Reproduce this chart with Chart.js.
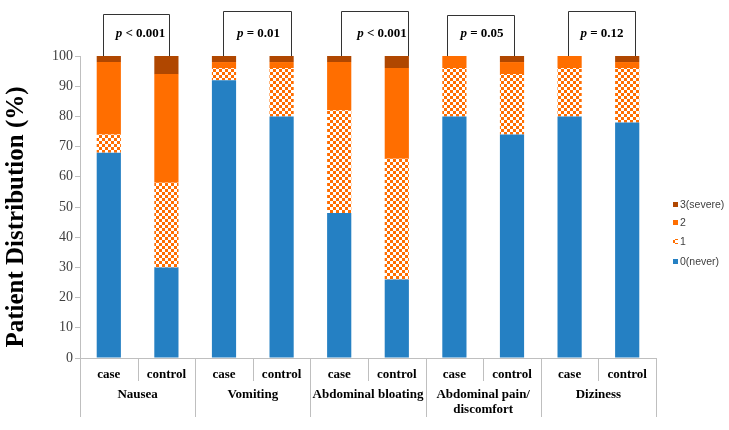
<!DOCTYPE html>
<html>
<head>
<meta charset="utf-8">
<script src="https://cdn.jsdelivr.net/npm/chart.js@4.4.1/dist/chart.umd.min.js"></script>
<style>
  html, body { margin: 0; padding: 0; background: #fff; }
  #wrap { width: 729px; height: 430px; }
</style>
</head>
<body>
<div id="wrap"><canvas id="chart" width="729" height="430"></canvas></div>
<script>
// ── Data ─────────────────────────────────────────────────────────────────────
const GROUPS   = ["Nausea", "Vomiting", "Abdominal bloating", ["Abdominal pain/", "discomfort"], "Diziness"];
const ARMS     = ["case", "control"];
const LABELS   = GROUPS.flatMap(() => ARMS);
const SEVERITY = ["0(never)", "1", "2", "3(severe)"];

// percent of patients, case/control per symptom
const NEVER  = [68, 30, 92, 80, 48, 26, 80, 74, 80, 78];
const ONE    = [ 6, 28,  4, 16, 34, 40, 16, 20, 16, 18];
const TWO    = [24, 36,  2,  2, 16, 30,  4,  4,  4,  2];
const SEVERE = [ 2,  6,  2,  2,  2,  4,  0,  2,  0,  2];

const P_VALUES = ["< 0.001", "= 0.01", "< 0.001", "= 0.05", "= 0.12"];

const Y_MAX  = 100;
const Y_STEP = 10;

// ── Style ────────────────────────────────────────────────────────────────────
const BLUE   = "#2580c3";
const ORANGE = "#ff6e00";
const DARK   = "#b04700";
const GREY   = "#bfbfbf";
const SERIF  = "'Liberation Serif', 'Times New Roman', serif";

// bracket tweaks per symptom: leg offsets from bar centres, top y, label shift
const BRACKET_STYLE = [
  { l: -6, r: 3,  top: 14, dx: 4 },
  { l: -1, r: 9,  top: 11, dx: 1 },
  { l:  2, r: 11, top: 11, dx: 7 },
  { l: -7, r: 2,  top: 15, dx: 1 },
  { l: -2, r: 8,  top: 11, dx: 0 },
];

function checker(color) {
  const c = document.createElement("canvas");
  c.width = 6; c.height = 6;
  const g = c.getContext("2d");
  g.fillStyle = "#fff";
  g.fillRect(0, 0, 6, 6);
  g.fillStyle = color;
  g.fillRect(0, 0, 3, 3);
  g.fillRect(3, 3, 3, 3);
  return g.createPattern(c, "repeat");
}

const FILLS = [BLUE, checker(ORANGE), ORANGE, DARK];

// ── Overlay: category rows, brackets, legend, y title ───────────────────────
const overlay = {
  id: "overlay",
  afterDraw(chart) {
    const { ctx, chartArea: a, scales: { x, y } } = chart;
    const half = (x.getPixelForValue(1) - x.getPixelForValue(0)) / 2;
    const seg = (x1, y1, x2, y2) => {
      ctx.beginPath(); ctx.moveTo(x1, y1); ctx.lineTo(x2, y2); ctx.stroke();
    };

    ctx.save();

    // separators under the axis
    ctx.strokeStyle = GREY;
    ctx.lineWidth = 1;
    seg(Math.round(a.left) + 0.5, a.bottom, Math.round(a.left) + 0.5, a.bottom + 59);
    for (let i = 0; i < LABELS.length; i++) {
      const px = Math.round(x.getPixelForValue(i) + half) + 0.5;
      seg(px, a.bottom, px, a.bottom + (i % 2 ? 59 : 23));
    }

    // symptom names
    ctx.fillStyle = "#000";
    ctx.font = `bold 13px ${SERIF}`;
    ctx.textAlign = "center";
    ctx.textBaseline = "middle";
    GROUPS.forEach((g, gi) => {
      const cx = (x.getPixelForValue(gi * 2) + x.getPixelForValue(gi * 2 + 1)) / 2;
      const lines = Array.isArray(g) ? g : [g];
      lines.forEach((t, li) => ctx.fillText(t, cx, a.bottom + 37 + li * 15));
    });

    // significance brackets
    ctx.strokeStyle = "#333";
    const base = y.getPixelForValue(Y_MAX);
    P_VALUES.forEach((p, gi) => {
      const s  = BRACKET_STYLE[gi];
      const x1 = Math.round(x.getPixelForValue(gi * 2) + s.l) + 0.5;
      const x2 = Math.round(x.getPixelForValue(gi * 2 + 1) + s.r) + 0.5;
      const t  = s.top + 0.5;
      ctx.beginPath();
      ctx.moveTo(x1, base); ctx.lineTo(x1, t); ctx.lineTo(x2, t); ctx.lineTo(x2, base);
      ctx.stroke();

      const rest = " " + p;
      ctx.font = `italic bold 13px ${SERIF}`;
      const wp = ctx.measureText("p").width;
      ctx.font = `bold 13px ${SERIF}`;
      const wr = ctx.measureText(rest).width;
      const sx = (x1 + x2) / 2 + s.dx - (wp + wr) / 2;
      ctx.textAlign = "left";
      ctx.font = `italic bold 13px ${SERIF}`;
      ctx.fillText("p", sx, 34);
      ctx.font = `bold 13px ${SERIF}`;
      ctx.fillText(rest, sx + wp, 34);
    });

    // legend, most severe on top
    const rows = [205, 223, 242, 262];
    ctx.font = "10.5px 'Liberation Sans', Arial, sans-serif";
    ctx.textAlign = "left";
    chart.data.datasets.slice().reverse().forEach((ds, i) => {
      ctx.fillStyle = ds.backgroundColor;
      ctx.fillRect(673, rows[i] - 3, 5, 5);
      ctx.fillStyle = "#404040";
      ctx.fillText(ds.label, 680, rows[i]);
    });

    // y title
    ctx.translate(17, 217);
    ctx.rotate(-Math.PI / 2);
    ctx.textAlign = "center";
    ctx.fillStyle = "#000";
    ctx.font = `bold 25px ${SERIF}`;
    ctx.fillText("Patient Distribution (%)", 0, 0);

    ctx.restore();
  },
};

// ── Chart ────────────────────────────────────────────────────────────────────
new Chart(document.getElementById("chart"), {
  type: "bar",
  data: {
    labels: LABELS,
    datasets: [NEVER, ONE, TWO, SEVERE].map((d, i) => ({
      label: SEVERITY[i],
      data: d,
      backgroundColor: FILLS[i],
      borderWidth: 0,
      barPercentage: 0.42,
      categoryPercentage: 1,
    })),
  },
  options: {
    responsive: false,
    animation: false,
    layout: { padding: { top: 56, right: 73, left: 0, bottom: 0 } },
    plugins: { legend: { display: false }, tooltip: { enabled: false } },
    scales: {
      x: {
        stacked: true,
        grid: { display: false },
        border: { color: GREY },
        ticks: { color: "#000", font: { family: SERIF, size: 13, weight: "bold" }, padding: 1 },
        afterFit: (s) => { s.height = 72; },
      },
      y: {
        stacked: true,
        min: 0,
        max: Y_MAX,
        grid: { drawOnChartArea: false, tickLength: 5, color: GREY },
        border: { color: GREY },
        ticks: { stepSize: Y_STEP, color: "#404040", font: { family: SERIF, size: 14 }, padding: 2 },
        afterFit: (s) => { s.width = 80; },
      },
    },
  },
  plugins: [overlay],
});
</script>
</body>
</html>
